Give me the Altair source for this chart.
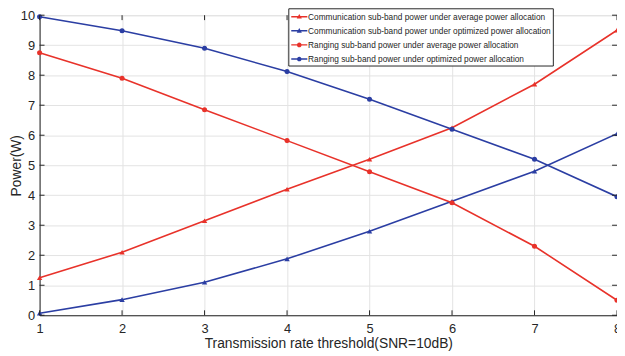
import altair as alt
import pandas as pd

x_vals = [1, 2, 3, 4, 5, 6, 7, 8]
comm_avg = [1.25, 2.1, 3.15, 4.2, 5.2, 6.25, 7.7, 9.5]
comm_opt = [0.07, 0.52, 1.1, 1.88, 2.8, 3.8, 4.8, 6.05]
rang_avg = [8.75, 7.9, 6.85, 5.82, 4.78, 3.75, 2.3, 0.5]
rang_opt = [9.95, 9.48, 8.9, 8.12, 7.2, 6.2, 5.2, 3.95]

series_names = [
    "Communication sub-band power under average power allocation",
    "Communication sub-band power under optimized power allocation",
    "Ranging sub-band power under average power allocation",
    "Ranging sub-band power under optimized power allocation",
]
series_values = [comm_avg, comm_opt, rang_avg, rang_opt]
series_markers = ["triangle-up", "triangle-up", "circle", "circle"]
series_colors = ["#e8322a", "#2b3ea3", "#e8322a", "#2b3ea3"]

x_ticks = [1, 2, 3, 4, 5, 6, 7, 8]
y_ticks = [0, 1, 2, 3, 4, 5, 6, 7, 8, 9, 10]

rows = []
for name, vals, mk in zip(series_names, series_values, series_markers):
    for xv, yv in zip(x_vals, vals):
        rows.append({"x": xv, "y": yv, "series": name, "marker": mk})
df = pd.DataFrame(rows)

W, H = 585, 304
TXT = "#262626"
FONT = "Liberation Sans"

# legend symbol paths: line segment + marker (shifted right a bit)
tri_path = ("M-0.85,-0.11H1.65V0.11H-0.85Z "
            "M0.4,-0.42L0.8,0.3L0.0,0.3Z")
circ_path = ("M-0.85,-0.11H1.65V0.11H-0.85Z "
             "M0.76,0A0.36,0.36 0 1,1 0.04,0A0.36,0.36 0 1,1 0.76,0Z")
legend_shapes = [tri_path, tri_path, circ_path, circ_path]

xscale = alt.Scale(domain=[1, 8], nice=False, zero=False)
yscale = alt.Scale(domain=[0, 10], nice=False)
cscale = alt.Scale(domain=series_names, range=series_colors)

xaxis = alt.Axis(values=x_ticks, format="d", title="Transmission rate threshold(SNR=10dB)",
                 grid=True, gridColor="#e3e3e3", gridWidth=1, tickSize=0, labelPadding=7,
                 domainColor=TXT, labelColor=TXT, titleColor=TXT,
                 labelFont=FONT, titleFont=FONT,
                 labelFontSize=13, titleFontSize=14, titleFontWeight="normal",
                 titlePadding=2, labelFlush=False, labelOverlap=False)
yaxis = alt.Axis(values=y_ticks, format="d", title="Power(W)",
                 grid=True, gridColor="#e3e3e3", gridWidth=1, tickSize=0, labelPadding=5,
                 domainColor=TXT, labelColor=TXT, titleColor=TXT,
                 labelFont=FONT, titleFont=FONT,
                 labelFontSize=13, titleFontSize=14, titleFontWeight="normal",
                 titleX=-16, labelFlush=False, labelOverlap=False)

legend = alt.Legend(orient="none", legendX=252, legendY=-7, title=None,
                    fillColor="white", strokeColor=TXT, padding=2,
                    rowPadding=3.3, symbolSize=169, labelOffset=5,
                    labelFont=FONT, labelFontSize=8.4,
                    labelColor=TXT, labelLimit=400, symbolStrokeWidth=0,
                    symbolOpacity=1)

X = alt.X("x:Q", scale=xscale, axis=xaxis)
Y = alt.Y("y:Q", scale=yscale, axis=yaxis)
C = alt.Color("series:N", scale=cscale, legend=legend)

base = alt.Chart(df)

lines = base.mark_line(strokeWidth=1.6).encode(x=X, y=Y, color=C, detail="series:N")

tri_pts = base.transform_filter(alt.datum.marker == "triangle-up").mark_point(
    shape="triangle-up", filled=True, size=30, opacity=1).encode(x=X, y=Y, color=C)
circ_pts = base.transform_filter(alt.datum.marker == "circle").mark_point(
    shape="circle", filled=True, size=26, opacity=1).encode(x=X, y=Y, color=C)

legend_layer = base.transform_filter("false").mark_point(filled=True, opacity=1).encode(
    x=X, y=Y, color=C,
    shape=alt.Shape("series:N", scale=alt.Scale(domain=series_names, range=legend_shapes),
                    legend=legend),
)

tick_x = pd.DataFrame({"t": x_ticks})
tick_y = pd.DataFrame({"t": y_ticks})
tick_len = 5
TX = alt.X("t:Q", scale=xscale, axis=xaxis)
TY = alt.Y("t:Q", scale=yscale, axis=yaxis)
bottom_ticks = alt.Chart(tick_x).mark_rule(color=TXT, strokeWidth=1).encode(
    x=TX, y=alt.value(H), y2=alt.value(H - tick_len))
top_ticks = alt.Chart(tick_x).mark_rule(color=TXT, strokeWidth=1).encode(
    x=TX, y=alt.value(0), y2=alt.value(tick_len))
left_ticks = alt.Chart(tick_y).mark_rule(color=TXT, strokeWidth=1).encode(
    y=TY, x=alt.value(0), x2=alt.value(tick_len))
right_ticks = alt.Chart(tick_y).mark_rule(color=TXT, strokeWidth=1).encode(
    y=TY, x=alt.value(W), x2=alt.value(W - tick_len))

chart = alt.layer(
    lines, tri_pts, circ_pts, legend_layer,
    bottom_ticks, top_ticks, left_ticks, right_ticks,
).properties(
    width=W, height=H,
    autosize=alt.AutoSizeParams(type="none"),
    padding={"left": 32, "top": 5, "right": 0, "bottom": 40},
).configure_view(stroke=TXT, strokeWidth=1).configure(background="white")

chart.save("out.html", embed_options={"renderer": "svg", "actions": False})
